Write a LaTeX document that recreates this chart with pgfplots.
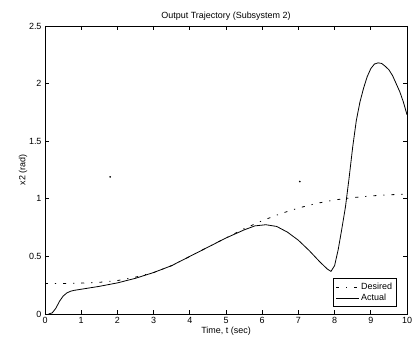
\documentclass[border=0pt]{standalone}
\usepackage{pgfplots}
\pgfplotsset{compat=1.18}
\usepackage{fontspec}
\setmainfont{Liberation Sans}
\begin{document}
\begin{tikzpicture}
\path[use as bounding box] (-45bp,-34bp) rectangle (370bp,314bp);
\begin{axis}[
  at={(0,0)}, anchor=south west,
  scale only axis, width=362bp, height=288bp,
  xmin=0, xmax=10, ymin=0, ymax=2.5,
  xtick={0,1,...,10}, ytick={0,0.5,1,1.5,2,2.5},
  tick align=inside, tick pos=both,
  major tick length=4bp,
  axis line style={line width=1pt},
  every tick/.style={black, line width=0.7pt},
  tick label style={font=\fontsize{9}{10}\selectfont},
  /pgf/number format/assume math mode=true,
  title={Output Trajectory (Subsystem 2)},
  title style={font=\fontsize{9}{10}\selectfont, yshift=-4bp},
  xlabel={Time, t (sec)},
  ylabel={x2 (rad)},
  label style={font=\fontsize{9}{10}\selectfont},
  xlabel style={yshift=4bp},
  ylabel style={yshift=-5bp},
  legend style={at={(rel axis cs:0.972,0.025)}, anchor=south east,
    font=\fontsize{9}{10}\selectfont, draw=black, line width=0.7pt,
    inner sep=2.5pt, row sep=-1pt},
  legend image code/.code={\draw[mark repeat=2,mark phase=2,#1] plot coordinates {(0cm,0cm) (0.4cm,0cm) (0.8cm,0cm)};},
  legend cell align=left,
]
\addplot[black, line width=0.8pt, dash pattern=on 3pt off 7pt on 1.2pt off 7pt] coordinates {
(0,0.265)(0.5,0.265)(1,0.268)(1.5,0.275)(2,0.29)(2.5,0.32)(3,0.36)(3.5,0.42)
(4,0.5)(4.5,0.58)(5,0.66)(5.5,0.74)(6,0.81)(6.5,0.87)(7,0.92)(7.5,0.96)
(8,0.99)(8.5,1.01)(9,1.025)(9.5,1.035)(10,1.04)};
\addlegendentry{Desired}
\addplot[black, line width=0.8pt] coordinates {
(0.1,0)(0.2,0.01)(0.3,0.05)(0.4,0.11)(0.5,0.155)(0.6,0.182)(0.7,0.197)(0.8,0.205)
(1,0.215)(1.5,0.24)(2,0.27)(2.5,0.31)(3,0.36)(3.5,0.42)(4,0.5)(4.5,0.58)
(5,0.66)(5.5,0.73)(5.8,0.765)(6.1,0.775)(6.4,0.76)(6.7,0.71)(7,0.64)(7.3,0.55)
(7.6,0.45)(7.8,0.39)(7.9,0.37)(8.0,0.42)(8.1,0.56)(8.2,0.74)(8.3,0.93)(8.4,1.18)
(8.5,1.45)(8.6,1.68)(8.7,1.84)(8.8,1.96)(8.9,2.06)(9.0,2.13)(9.1,2.17)(9.2,2.18)
(9.3,2.175)(9.4,2.15)(9.5,2.12)(9.6,2.07)(9.7,2.0)(9.8,1.93)(9.9,1.84)(10,1.73)};
\addlegendentry{Actual}
\addplot[only marks, mark=*, mark size=0.6pt, black, forget plot] coordinates {(1.8,1.19)(7.04,1.15)};
\end{axis}
\end{tikzpicture}
\end{document}
